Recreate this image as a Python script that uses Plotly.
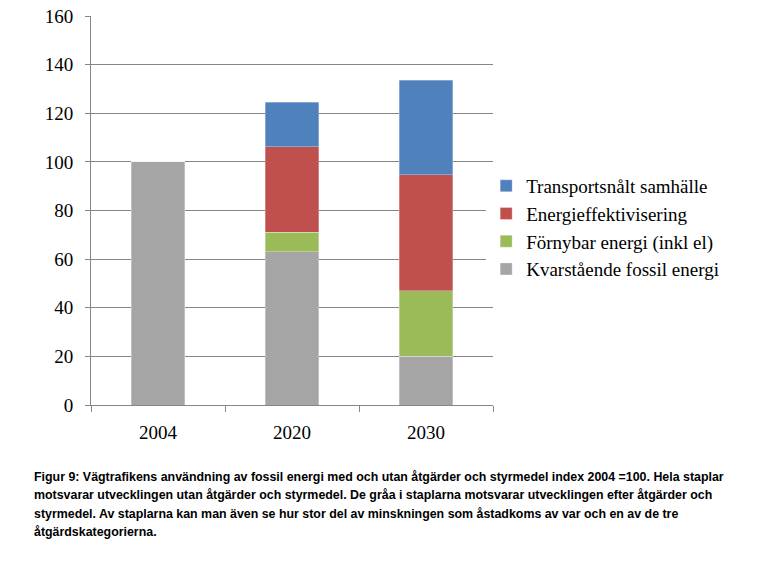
import plotly.graph_objects as go

categories = ["2004", "2020", "2030"]
kvarstaende = [100, 63, 20]
fornybar = [0, 8, 27]
energieff = [0, 35.3, 47.7]
transport = [0, 18.2, 38.8]

series = [
    ("Kvarstående fossil energi", kvarstaende, "#A5A5A5"),
    ("Förnybar energi (inkl el)", fornybar, "#9BBB59"),
    ("Energieffektivisering", energieff, "#C0504D"),
    ("Transportsnålt samhälle", transport, "#4F81BD"),
]

caption_lines = [
    "Figur 9: Vägtrafikens användning av fossil energi med och utan åtgärder och styrmedel index 2004 =100. Hela staplar",
    "motsvarar utvecklingen utan åtgärder och styrmedel. De gråa i staplarna motsvarar utvecklingen efter åtgärder och",
    "styrmedel. Av staplarna kan man även se hur stor del av minskningen som åstadkoms av var och en av de tre",
    "åtgärdskategorierna.",
]
caption_y = [-0.185, -0.231, -0.280, -0.326]

fig = go.Figure()
for name, vals, col in series:
    fig.add_trace(go.Bar(x=categories, y=vals, name=name,
                         marker=dict(color=col, line=dict(color="rgba(255,255,255,0.6)", width=0.5))))

serif = "Liberation Serif, Times New Roman, serif"
annotations = [dict(text="<b>" + t + "</b>", xref="paper", yref="paper", x=-0.147, y=yy,
                    xanchor="left", yanchor="middle", align="left", showarrow=False,
                    font=dict(family="Liberation Sans, sans-serif", size=12.4, color="black"))
               for t, yy in zip(caption_lines, caption_y)]

fig.update_layout(
    barmode="stack",
    bargap=0.6,
    width=757, height=571,
    margin=dict(l=91, r=264, t=16, b=166, autoexpand=False),
    plot_bgcolor="white", paper_bgcolor="white",
    font=dict(family=serif, size=19, color="black"),
    legend=dict(traceorder="reversed", x=0.983, y=0.612, xanchor="left", yanchor="top",
                font=dict(family=serif, size=19), tracegroupgap=0),
    xaxis=dict(type="category", showline=True, linecolor="#868686", linewidth=1,
               ticks="outside", tickson="boundaries", ticklen=6, tickcolor="#868686", automargin=False,
               showgrid=False, tickfont=dict(family=serif, size=19), ticklabelstandoff=10),
    yaxis=dict(range=[0, 160], dtick=20, showline=True, linecolor="#868686", linewidth=1,
               ticks="outside", ticklen=5, tickcolor="#868686", ticklabeloverflow="allow",
               automargin=False,
               showgrid=True, gridcolor="#868686", gridwidth=1, zeroline=False,
               tickfont=dict(family=serif, size=19), ticklabelstandoff=8),
    annotations=annotations,
)

fig.write_html("out.html", config={"displayModeBar": False},
               post_script="document.body.style.margin='0';")
